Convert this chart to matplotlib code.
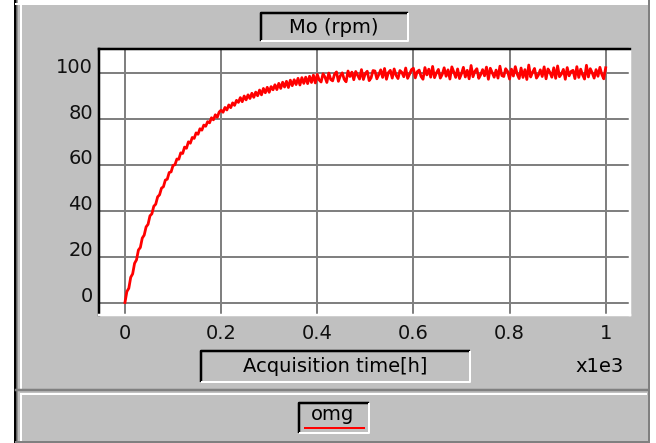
import numpy as np
import matplotlib
matplotlib.use('Agg')
import matplotlib.pyplot as plt
from matplotlib.patches import Rectangle
from matplotlib.transforms import ScaledTranslation

# acquisition time in units of 1e3 h, one sample every 0.004
t_khours = np.linspace(0.0, 1.0, 251)

# motor speed omg (rpm)
omg = [
    0.0, 4.8, 6.2, 11.0, 12.5, 17.1, 18.6, 22.9, 24.0, 28.1,
    29.4, 33.0, 34.1, 37.8, 38.7, 42.0, 42.9, 46.1, 47.0, 49.9,
    50.5, 53.4, 53.8, 56.7, 57.0, 59.8, 60.1, 62.6, 62.5, 65.3,
    65.0, 67.8, 67.3, 70.1, 69.5, 72.0, 71.6, 74.0, 73.4, 75.8,
    75.2, 77.4, 76.9, 78.9, 78.4, 80.6, 79.7, 81.9, 80.8, 83.1,
    83.9, 83.0, 85.1, 84.0, 86.2, 85.0, 87.1, 86.0, 88.2, 87.3,
    89.4, 87.6, 90.1, 88.4, 90.6, 89.0, 91.3, 89.5, 91.8, 90.2,
    92.7, 90.6, 93.4, 91.5, 93.9, 91.7, 94.2, 92.8, 95.0, 92.9,
    95.6, 93.4, 96.1, 94.0, 96.5, 93.8, 97.0, 94.6, 97.2, 95.1,
    97.8, 94.9, 98.1, 95.6, 98.3, 95.5, 98.7, 96.0, 99.2, 95.8,
    99.5, 97.1, 96.2, 99.8, 98.4, 96.0, 100.1, 97.3, 96.7, 99.6,
    100.6, 96.5, 98.9, 100.2, 97.4, 96.3, 101.0, 98.6, 100.5, 97.2,
    100.8, 99.2, 97.5, 101.6, 97.3, 99.9, 100.9, 96.8, 98.0, 101.2,
    101.0, 97.6, 99.4, 101.5, 98.2, 102.1, 97.4, 100.3, 101.3, 97.9,
    101.9, 99.1, 97.7, 101.2, 100.4, 98.5, 102.3, 97.8, 99.6, 101.6,
    102.2, 98.0, 100.7, 101.4, 98.6, 97.4, 102.5, 99.3, 101.8, 98.3,
    103.0, 98.1, 100.2, 101.7, 97.9, 99.5, 102.4, 98.7, 101.5, 97.5,
    102.8, 100.6, 98.2, 101.9, 97.7, 99.8, 102.6, 98.4, 101.3, 97.6,
    103.4, 98.5, 100.9, 102.0, 97.8, 99.4, 101.6, 98.9, 102.7, 97.4,
    102.2, 100.3, 98.3, 101.4, 97.9, 103.1, 99.0, 98.6, 102.0, 100.8,
    97.5, 101.8, 98.8, 102.9, 99.6, 97.7, 102.3, 98.2, 101.6, 97.3,
    103.6, 98.4, 100.5, 102.1, 97.9, 99.2, 101.5, 98.6, 102.8, 97.6,
    101.9, 100.4, 98.3, 102.4, 97.8, 103.2, 98.5, 99.7, 101.7, 97.4,
    102.5, 98.9, 100.8, 101.3, 97.7, 102.9, 98.2, 101.8, 99.3, 97.5,
    103.5, 98.4, 102.0, 100.2, 97.9, 101.6, 98.7, 102.6, 99.5, 97.6,
    102.4,
]

xticks = [0, 0.2, 0.4, 0.6, 0.8, 1.0]
xtick_labels = ['0', '0.2', '0.4', '0.6', '0.8', '1']
yticks = [0, 20, 40, 60, 80, 100]
ytick_labels = ['0', '20', '40', '60', '80', '100']

W, H = 656, 443
PX = 0.72  # one pixel in points at 100 dpi
PANEL = '#c0c0c0'
SHADOW = '#808080'

fig = plt.figure(figsize=(W / 100, H / 100), dpi=100)
fig.patch.set_facecolor('white')

# background layer in pixel coordinates for the panel frames and label boxes
bg = fig.add_axes([0, 0, 1, 1])
bg.set_xlim(0, W)
bg.set_ylim(H, 0)
bg.axis('off')

bg.add_patch(Rectangle((16, 3), 632, 438, color=PANEL, lw=0))
bg.plot([14.5, 14.5], [0, H], color='black', lw=3 * PX)
bg.plot([17, 17], [0, H], color=SHADOW, lw=1.5 * PX)
bg.plot([21, 21], [4, 388], color='white', lw=2 * PX)
bg.plot([21, 21], [395, 440], color='white', lw=2 * PX)
bg.plot([16, 648], [4, 4], color='white', lw=2 * PX)
bg.plot([648.5, 648.5], [0, H], color=SHADOW, lw=2 * PX)
bg.plot([16, 648], [390, 390], color=SHADOW, lw=2.5 * PX)
bg.plot([21, 646], [394, 394], color='white', lw=2 * PX)
bg.plot([16, 648], [441.5, 441.5], color=SHADOW, lw=2 * PX)


def sunken_box(x0, y0, x1, y1):
    bg.plot([x0, x0, x1], [y1, y0, y0], color='black', lw=2.5 * PX,
            solid_capstyle='butt')
    bg.plot([x0, x1, x1], [y1, y1, y0], color='white', lw=2 * PX,
            solid_capstyle='butt')


sunken_box(261, 13, 408, 41)
bg.text(334, 27, 'Mo (rpm)', ha='center', va='center', fontsize=14)

sunken_box(201, 351, 470, 382)
bg.text(335, 366, 'Acquisition time[h]', ha='center', va='center', fontsize=14)
bg.text(600, 366, 'x1e3', ha='center', va='center', fontsize=14)

sunken_box(299, 403, 369, 433)
bg.text(333, 414, 'omg', ha='center', va='center', fontsize=14)
bg.plot([305, 364], [428, 428], color='#ff0000', lw=2 * PX)

# plot area
ax = fig.add_axes([99 / W, 1 - 315 / H, 531 / W, 266 / H])
ax.set_facecolor('white')
ax.plot(t_khours, omg, color='#ff0000', lw=2.0, zorder=3)
ax.set_xlim(-0.054, 1.0506)
ax.set_ylim(-5.45, 110.6)
ax.set_xticks(xticks)
ax.set_xticklabels(xtick_labels)
ax.set_yticks(yticks)
ax.set_yticklabels(ytick_labels)
ax.set_axisbelow(True)
ax.grid(True, color=SHADOW, lw=2 * PX)
ax.tick_params(axis='both', length=0, labelsize=14, colors='#101010')
ax.tick_params(axis='x', pad=6.5)
ax.tick_params(axis='y', pad=4.3)

for side in ['top', 'left']:
    ax.spines[side].set_color('black')
    ax.spines[side].set_linewidth(2.5 * PX)
for side in ['bottom', 'right']:
    ax.spines[side].set_color('white')
    ax.spines[side].set_linewidth(2.5 * PX)

# y labels sit a little above their grid lines
shift = ScaledTranslation(0, 8 / 100, fig.dpi_scale_trans)
for lab in ax.get_yticklabels():
    lab.set_transform(lab.get_transform() + shift)

fig.savefig('out.png', dpi=100)
